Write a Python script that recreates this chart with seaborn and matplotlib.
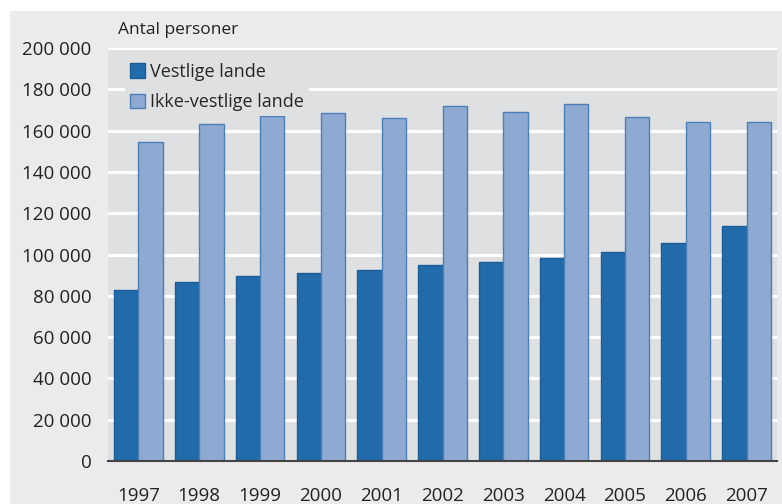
import matplotlib
matplotlib.use("Agg")
import matplotlib.pyplot as plt
import matplotlib.patches as mpatches
import seaborn as sns
import pandas as pd

years = ["1997", "1998", "1999", "2000", "2001", "2002", "2003", "2004", "2005", "2006", "2007"]
vestlige = [83000, 86500, 89500, 91000, 92500, 95000, 96500, 98500, 101200, 105700, 113900]
ikke_vestlige = [154500, 163000, 167000, 168500, 166000, 172000, 169000, 172700, 166400, 164400, 164200]
series_names = ["Vestlige lande", "Ikke-vestlige lande"]
yticks = list(range(0, 200001, 20000))

df = pd.DataFrame({
    "year": years * 2,
    "value": vestlige + ikke_vestlige,
    "series": [series_names[0]] * len(years) + [series_names[1]] * len(years),
})

sns.set_theme(style="white")
plt.rcParams['font.family'] = ['Open Sans', 'DejaVu Sans']

dark = "#226baa"
light = "#8faad2"
dark_edge = "#1a5d99"
light_edge = "#4a7fb8"
plot_bg = "#dfe0e2"
fig_bg = "#ebebed"
txt = "#222222"

fig = plt.figure(figsize=(7.82, 5.04), dpi=100, facecolor="white")
fig.patches.append(mpatches.Rectangle((10 / 782, 0), 1, 1 - 11 / 504, transform=fig.transFigure,
                                      facecolor=fig_bg, edgecolor="none", zorder=-10))
ax = fig.add_axes([108 / 782, 1 - 461 / 504, (777 - 108) / 782, (461 - 48) / 504])
ax.set_facecolor(plot_bg)

sns.barplot(data=df, x="year", y="value", hue="series", palette=[dark, light],
            width=0.8, ax=ax, saturation=1, legend=False)
for i, patch in enumerate(ax.patches):
    patch.set_edgecolor(dark_edge if i < len(years) else light_edge)
    patch.set_linewidth(1.0)
    patch.set_zorder(3)

ax.set_ylim(0, 200000)
ax.set_xlim(-0.5, len(years) - 0.5)
ax.set_yticks(yticks)
ax.set_yticklabels([f"{v:,}".replace(",", " ") for v in yticks])
ax.yaxis.grid(True, color="white", linewidth=2.2, zorder=0)
ax.set_axisbelow(True)
ax.tick_params(axis="y", length=0, pad=12, labelsize=13.5, labelcolor=txt)
ax.tick_params(axis="x", length=0, pad=19, labelsize=13.5, labelcolor=txt)
ax.set_xlabel("")
ax.set_ylabel("")
for s in ["top", "right", "left"]:
    ax.spines[s].set_visible(False)
ax.spines["bottom"].set_color("#444444")
ax.spines["bottom"].set_linewidth(1.5)
ax.spines["bottom"].set_zorder(5)

handles = [mpatches.Patch(facecolor=dark, edgecolor=dark_edge, label=series_names[0]),
           mpatches.Patch(facecolor=light, edgecolor=light_edge, label=series_names[1])]
leg = ax.legend(handles=handles, loc="upper left", bbox_to_anchor=((125 - 108) / 669, 0.975),
                frameon=True, fontsize=13, handlelength=0.85, handleheight=0.85, handletextpad=0.3,
                labelspacing=0.68, borderpad=0.25, borderaxespad=0, fancybox=False)
leg.get_frame().set_facecolor(plot_bg)
leg.get_frame().set_edgecolor("none")
leg.get_frame().set_alpha(1)
leg.set_zorder(6)

fig.text(118 / 782, 1 - 30 / 504, "Antal personer", fontsize=12.5, color=txt, va="center", ha="left")

fig.savefig("out.png", dpi=100, facecolor=fig.get_facecolor())
